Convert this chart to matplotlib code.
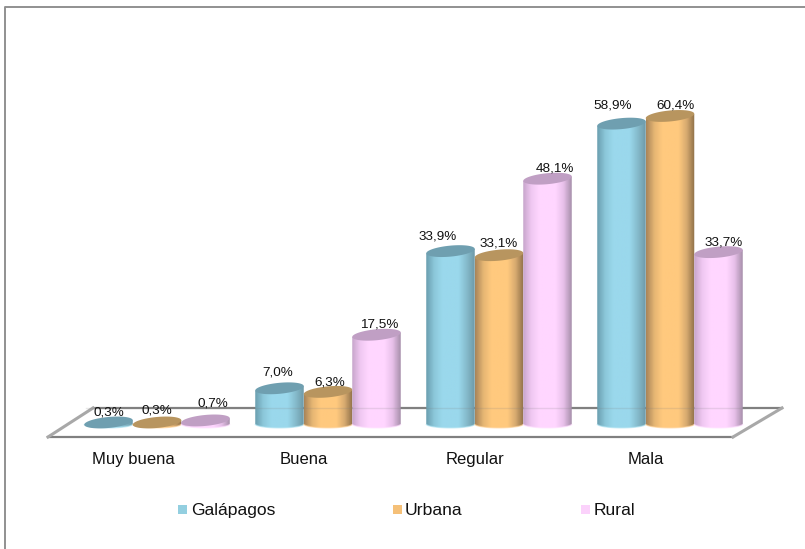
"""Cylinder bar chart of rating by area."""

import matplotlib
matplotlib.use("Agg")
import matplotlib.pyplot as plt
from matplotlib.colors import LinearSegmentedColormap
from matplotlib.patches import PathPatch, Rectangle
from matplotlib.path import Path
import numpy as np


CATEGORIES = ["Muy buena", "Buena", "Regular", "Mala"]
SERIES = ["Galápagos", "Urbana", "Rural"]
GALAPAGOS = [0.3, 7.0, 33.9, 58.9]
URBANA = [0.3, 6.3, 33.1, 60.4]
RURAL = [0.7, 17.5, 48.1, 33.7]

SIDE_COLORS = [
    ["#6b9fb0", "#8cc8da", "#9ad8ec", "#9ad8ec", "#9ad8ec", "#86bccd", "#6e9aa8"],
    ["#a9855a", "#e6b673", "#ffc97e", "#ffc97e", "#ffc97e", "#d8ab70", "#8f7048"],
    ["#c8a6cc", "#f0c8f2", "#ffd6ff", "#ffd6ff", "#ffd6ff", "#e8c0ea", "#a890ac"],
]
TOP_COLORS = ["#6f9fb0", "#b8955f", "#c09fc4"]
BOTTOM_COLORS = ["#a8e0f0", "#ffcf90", "#ffdcff"]
LEGEND_COLORS = ["#93cfe0", "#f5c078", "#fbd2fb"]
GRAY = "#808080"

# label nudges in pixels (right, down) per series and category
LABEL_NUDGE = [
    [(0, 5), (-2, -1), (-13, 0), (-9, -3)],
    [(0, 3), (2, 6), (0, 3), (5, 5)],
    [(7, -2), (3, 5), (7, 5), (5, 5)],
]

W, H = 805, 549
PX_PER_GROUP = 171.0
PX_PER_UNIT = 5.1
X0_PX, Y0_PX = 157.0, 424.0
BAR_PX = 48.5
BAR_W = BAR_PX / PX_PER_GROUP
CAP_H = 5.5 / PX_PER_UNIT
TILT = 2.2 / PX_PER_UNIT


def px_x(px):
    return (px - X0_PX) / PX_PER_GROUP


def px_y(py):
    return (Y0_PX - py) / PX_PER_UNIT


def cylinder(ax, x, value, colors, top_color, bottom_color):
    hw = BAR_W / 2
    t = np.linspace(0, np.pi, 40)
    bottom_x = x - hw * np.cos(t)
    bottom_y = -0.75 * np.sin(t)
    top_x = x + hw * np.cos(t)
    top_y = value + TILT * np.cos(t)
    verts = np.vstack([np.column_stack([bottom_x, bottom_y]), np.column_stack([top_x, top_y])])
    cmap = LinearSegmentedColormap.from_list("side", colors)
    grad = np.linspace(0, 1, 64)[None, :]
    im = ax.imshow(grad, cmap=cmap, extent=[x - hw, x + hw, -1.5, value + TILT],
                   aspect="auto", zorder=3 + x, interpolation="bilinear")
    clip = PathPatch(Path(verts), transform=ax.transData, facecolor="none", edgecolor="none")
    ax.add_patch(clip)
    im.set_clip_path(clip)

    # light rim at the foot of the cylinder
    ax.plot(bottom_x, bottom_y, color=bottom_color, lw=1, alpha=0.6, zorder=3 + x, solid_capstyle="butt")

    # tilted cap
    a = np.linspace(0, 2 * np.pi, 80)
    cap_x = x + hw * np.cos(a)
    cap_y = value + TILT * np.cos(a) + CAP_H * np.sin(a)
    ax.fill(cap_x, cap_y, color=top_color, lw=0, zorder=3 + x)


def main():
    fig = plt.figure(figsize=(W / 100, H / 100), dpi=100)
    ax = fig.add_axes([0, 0, 1, 1])
    ax.set_xlim(px_x(0), px_x(W))
    ax.set_ylim(px_y(H), px_y(0))
    ax.axis("off")

    # chart frame
    ax.plot([px_x(5), px_x(5), px_x(W)], [px_y(H), px_y(7), px_y(7)], color="#909090", lw=1.4, zorder=1)

    # floor
    ax.plot([px_x(93), px_x(782)], [px_y(407.7), px_y(407.7)], color=GRAY, lw=1.6, zorder=2)
    ax.plot([px_x(48), px_x(733)], [px_y(437.2), px_y(437.2)], color=GRAY, lw=1.6, zorder=2)
    for start, end in ((48, 93), (733, 782)):
        ax.plot([px_x(start), px_x(end)], [px_y(437), px_y(408)], color="#a8a8a8", lw=2.2, zorder=2)

    values = [GALAPAGOS, URBANA, RURAL]
    for s, series_values in enumerate(values):
        for i, value in enumerate(series_values):
            x = i + (s - 1) * BAR_W
            cylinder(ax, x, value, SIDE_COLORS[s], TOP_COLORS[s], BOTTOM_COLORS[s])
            dx, dy = LABEL_NUDGE[s][i]
            ax.text(x + dx / PX_PER_GROUP, value + (9.0 - dy) / PX_PER_UNIT,
                    f"{value:.1f}%".replace(".", ","),
                    ha="center", va="bottom", fontsize=9.7, color="#111111", zorder=10)

    # back wall line shows faintly through the cylinders
    ax.plot([px_x(86), px_x(745)], [px_y(407.7), px_y(407.7)], color=GRAY, lw=1, alpha=0.18, zorder=9)

    for i, name in enumerate(CATEGORIES):
        ax.text(i - 24 / PX_PER_GROUP, px_y(464), name, ha="center", va="baseline", fontsize=12, color="#111111")

    legend_px = [(178, 191), (393, 405), (581, 594)]
    for (box, text_px), name, color in zip(legend_px, SERIES, LEGEND_COLORS):
        ax.add_patch(Rectangle((px_x(box), px_y(514)), 9 / PX_PER_GROUP, 9 / PX_PER_UNIT,
                               facecolor=color, edgecolor="none", zorder=3))
        ax.text(px_x(text_px), px_y(515), name, ha="left", va="baseline", fontsize=12.6, color="#111111")

    fig.savefig("out.png", dpi=100)
    plt.close(fig)


if __name__ == "__main__":
    plt.rcParams["font.family"] = ["Liberation Sans", "DejaVu Sans"]
    main()
